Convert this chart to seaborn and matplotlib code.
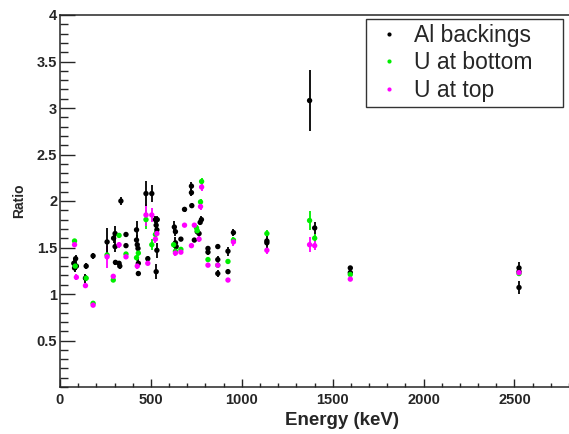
import numpy as np
import pandas as pd
import matplotlib
matplotlib.use("Agg")
import matplotlib.pyplot as plt
from matplotlib.ticker import MultipleLocator
import seaborn as sns

# ===================== Data =====================
al_energy = [76, 86, 80, 90, 144, 140, 182, 259, 295, 303, 303, 305, 325, 329, 335,
             363, 363, 421, 421, 425, 429, 431, 431, 473, 483, 505, 525, 529, 533, 529,
             535, 533, 629, 635, 635, 639, 665, 685, 723, 723, 725, 739, 755, 765, 771,
             778, 814, 814, 868, 868, 868, 924, 924, 954, 1138, 1138, 1373, 1401, 1597,
             1597, 2525, 2525, 2525]
al_ratio = [1.33, 1.38, 1.28, 1.30, 1.30, 1.17, 1.41, 1.56, 1.60, 1.65, 1.51, 1.34, 1.33,
            1.30, 2.00, 1.64, 1.52, 1.69, 1.58, 1.53, 1.49, 1.33, 1.22, 2.08, 1.38, 2.08,
            1.80, 1.74, 1.47, 1.24, 1.80, 1.69, 1.72, 1.67, 1.55, 1.51, 1.59, 1.91, 2.09,
            2.16, 1.95, 1.58, 1.67, 1.65, 1.77, 1.80, 1.49, 1.45, 1.51, 1.37, 1.22, 1.46,
            1.24, 1.66, 1.57, 1.55, 3.08, 1.71, 1.28, 1.23, 1.28, 1.24, 1.07]
al_err = [0.05, 0.04, 0.04, 0.04, 0.03, 0.05, 0.03, 0.15, 0.05, 0.08, 0.06, 0.03, 0.03,
          0.03, 0.04, 0.03, 0.02, 0.10, 0.05, 0.05, 0.05, 0.05, 0.03, 0.13, 0.03, 0.09,
          0.04, 0.04, 0.08, 0.08, 0.04, 0.04, 0.06, 0.05, 0.06, 0.04, 0.02, 0.03, 0.04,
          0.04, 0.03, 0.02, 0.03, 0.03, 0.03, 0.04, 0.03, 0.03, 0.03, 0.04, 0.04, 0.05,
          0.03, 0.04, 0.05, 0.05, 0.33, 0.06, 0.02, 0.03, 0.06, 0.05, 0.07]

bot_energy = [80, 84, 144, 182, 259, 293, 325, 363, 421, 431, 473, 505, 525, 625, 635,
              665, 751, 755, 773, 779, 814, 868, 924, 954, 1138, 1373, 1401, 1597, 2525]
bot_ratio = [1.57, 1.30, 1.17, 0.90, 1.42, 1.15, 1.63, 1.43, 1.39, 1.44, 1.80, 1.53, 1.64,
             1.53, 1.46, 1.48, 1.71, 1.68, 1.99, 2.21, 1.37, 1.31, 1.35, 1.58, 1.65, 1.79,
             1.60, 1.21, 1.22]
bot_err = [0.02, 0.03, 0.03, 0.02, 0.05, 0.02, 0.03, 0.02, 0.03, 0.03, 0.10, 0.06, 0.04,
           0.03, 0.03, 0.02, 0.03, 0.03, 0.03, 0.04, 0.02, 0.03, 0.03, 0.03, 0.04, 0.10,
           0.04, 0.02, 0.03]

top_energy = [80, 90, 140, 182, 259, 293, 325, 363, 425, 473, 483, 505, 525, 533, 635,
              665, 685, 723, 739, 765, 773, 779, 814, 868, 924, 954, 1138, 1373, 1401,
              1597, 2525]
top_ratio = [1.53, 1.18, 1.09, 0.88, 1.40, 1.19, 1.53, 1.40, 1.30, 1.85, 1.33, 1.85, 1.59,
             1.65, 1.44, 1.45, 1.74, 1.52, 1.74, 1.59, 1.94, 2.15, 1.31, 1.31, 1.15, 1.56,
             1.47, 1.53, 1.52, 1.16, 1.23]
top_err = [0.02, 0.03, 0.03, 0.02, 0.12, 0.02, 0.03, 0.02, 0.03, 0.12, 0.02, 0.08, 0.04,
           0.03, 0.03, 0.02, 0.02, 0.02, 0.02, 0.03, 0.04, 0.04, 0.02, 0.03, 0.02, 0.04,
           0.04, 0.08, 0.05, 0.02, 0.03]

series_names = ["Al backings", "U at bottom", "U at top"]
series_colors = ["black", "#00ee00", "#ff00ff"]
x_tick_vals = [0, 500, 1000, 1500, 2000, 2500]
x_tick_labels = ["0", "500", "1000", "1500", "2000", "2500"]
y_tick_vals = [0.5, 1, 1.5, 2, 2.5, 3, 3.5, 4]
y_tick_labels = ["0.5", "1", "1.5", "2", "2.5", "3", "3.5", "4"]

df = pd.concat([
    pd.DataFrame({"energy": al_energy, "ratio": al_ratio, "err": al_err, "set": series_names[0]}),
    pd.DataFrame({"energy": bot_energy, "ratio": bot_ratio, "err": bot_err, "set": series_names[1]}),
    pd.DataFrame({"energy": top_energy, "ratio": top_ratio, "err": top_err, "set": series_names[2]}),
], ignore_index=True)

# ===================== Style =====================
sns.set_style("ticks")
plt.rcParams["font.family"] = ["Liberation Sans", "DejaVu Sans"]

fig = plt.figure(figsize=(5.69, 4.34), dpi=100)
ax = fig.add_axes([60 / 569, 47 / 434, 509 / 569, 372 / 434])

palette = dict(zip(series_names, series_colors))

# error bars first (green, magenta, black order)
for name in [series_names[1], series_names[2], series_names[0]]:
    sub = df[df["set"] == name]
    ax.errorbar(sub["energy"], sub["ratio"], yerr=sub["err"], fmt="none",
                ecolor=palette[name], elinewidth=1.3, capsize=0, zorder=2)

sns.scatterplot(data=df, x="energy", y="ratio", hue="set", palette=palette,
                hue_order=[series_names[1], series_names[2], series_names[0]],
                s=15, linewidth=0, ax=ax, zorder=3, legend=False)

# ===================== Axes =====================
ax.set_xlim(0, 2800)
ax.set_ylim(0, 4)
ax.set_xticks(x_tick_vals, labels=x_tick_labels, fontweight="bold", fontsize=10.5)
ax.xaxis.set_minor_locator(MultipleLocator(100))
ax.set_yticks(y_tick_vals, labels=y_tick_labels, fontweight="bold", fontsize=10.5)
ax.yaxis.set_minor_locator(MultipleLocator(0.1))
ax.tick_params(axis="both", which="both", direction="in", width=1.0)
ax.tick_params(axis="y", which="major", length=11, pad=2)
ax.tick_params(axis="y", which="minor", length=5.5)
ax.tick_params(axis="x", which="major", length=5.5, pad=4)
ax.tick_params(axis="x", which="minor", length=2.8)
ax.spines["right"].set_visible(False)
for s in ["left", "top", "bottom"]:
    ax.spines[s].set_linewidth(1.1)

ax.set_xlabel("Energy (keV)", fontsize=13.5, fontweight="bold")
ax.xaxis.set_label_coords(0.555, -0.066)
ax.set_ylabel("Ratio", fontsize=10, fontweight="bold")
ax.yaxis.set_label_coords(-0.066, 0.5)

# ===================== Legend =====================
handles = [plt.Line2D([], [], marker="o", linestyle="none", markersize=3,
                      color=c, markeredgewidth=0) for c in series_colors]
leg = ax.legend(handles, series_names, loc="upper left", mode="expand",
                bbox_to_anchor=(0.601, 0.755, 0.387, 0.235),
                fontsize=16.5, frameon=True, fancybox=False, borderaxespad=0,
                handlelength=1.6, handletextpad=0.3, labelspacing=0.2, borderpad=0.22)
leg.get_frame().set_edgecolor("black")
leg.get_frame().set_linewidth(1.0)

fig.savefig("out.png", dpi=100)
